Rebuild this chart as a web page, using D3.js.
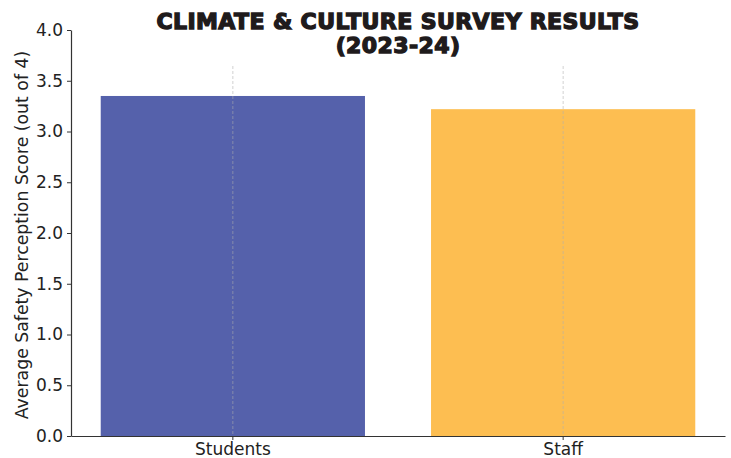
<!DOCTYPE html>
<html>
<head>
<meta charset="utf-8">
<script src="https://cdn.jsdelivr.net/npm/d3@7"></script>
<style>
  body { margin: 0; background: #fff; }
  text { font-family: "DejaVu Sans", sans-serif; }
</style>
</head>
<body>
<script>
// Chart data
const groups = ["Students", "Staff"];
const scores = [3.35, 3.22];
const barColors = ["#5561ab", "#fdbe51"];
const yTicks = [0, 0.5, 1, 1.5, 2, 2.5, 3, 3.5, 4];
const titleLines = ["CLIMATE & CULTURE SURVEY RESULTS", "(2023-24)"];

const width = 731;
const height = 458;
const margin = { top: 30, right: 6, bottom: 22, left: 71 };

const svg = d3.select("body").append("svg")
  .attr("width", width)
  .attr("height", height);

const x = d3.scaleBand()
  .domain(groups)
  .range([margin.left, width - margin.right])
  .paddingInner(0.2)
  .paddingOuter(0.09);

const y = d3.scaleLinear()
  .domain([0, 4])
  .range([height - margin.bottom, margin.top]);

// Bars
svg.append("g")
  .selectAll("rect")
  .data(groups)
  .join("rect")
  .attr("x", d => x(d))
  .attr("y", (d, i) => y(scores[i]))
  .attr("width", x.bandwidth())
  .attr("height", (d, i) => y(0) - y(scores[i]))
  .attr("fill", (d, i) => barColors[i]);

// dashed vertical grid at category centers
svg.append("g")
  .selectAll("line")
  .data(groups)
  .join("line")
  .attr("x1", d => x(d) + x.bandwidth() / 2)
  .attr("x2", d => x(d) + x.bandwidth() / 2)
  .attr("y1", 66)
  .attr("y2", y(0))
  .attr("stroke", "#b0b0b0")
  .attr("stroke-width", 0.8)
  .attr("stroke-dasharray", "3,2")
  .attr("opacity", 0.7);

// Axes
const xAxis = svg.append("g")
  .attr("transform", `translate(0,${y(0)})`)
  .call(d3.axisBottom(x).tickSize(4).tickSizeOuter(0).tickPadding(3));

const yAxis = svg.append("g")
  .attr("transform", `translate(${margin.left},0)`)
  .call(d3.axisLeft(y).tickValues(yTicks).tickFormat(d3.format(".1f")).tickSize(4).tickSizeOuter(0).tickPadding(4));

[xAxis, yAxis].forEach(a => {
  a.select(".domain").attr("stroke", "#333").attr("stroke-width", 1.2);
  a.selectAll(".tick line").attr("stroke", "#333").attr("stroke-width", 1);
  a.selectAll(".tick text")
    .attr("fill", "#222")
    .style("font-size", "17px")
    .style("font-family", "'DejaVu Sans', sans-serif");
});

// Y label
svg.append("text")
  .attr("transform", `translate(28,${(y(0) + y(4)) / 2 + 2}) rotate(-90)`)
  .attr("text-anchor", "middle")
  .attr("fill", "#222")
  .style("font-size", "17.3px")
  .text("Average Safety Perception Score (out of 4)");

// Title
const title = svg.append("text")
  .attr("text-anchor", "middle")
  .attr("fill", "#1f1b1c")
  .attr("stroke", "#1f1b1c")
  .attr("stroke-width", 1.4)
  .style("font-size", "22px")
  .style("font-weight", "bold")
  .style("letter-spacing", "0.4px");

titleLines.forEach((t, i) => {
  title.append("tspan")
    .attr("x", (margin.left + width - margin.right) / 2)
    .attr("y", 29 + i * 24)
    .text(t);
});
</script>
</body>
</html>
